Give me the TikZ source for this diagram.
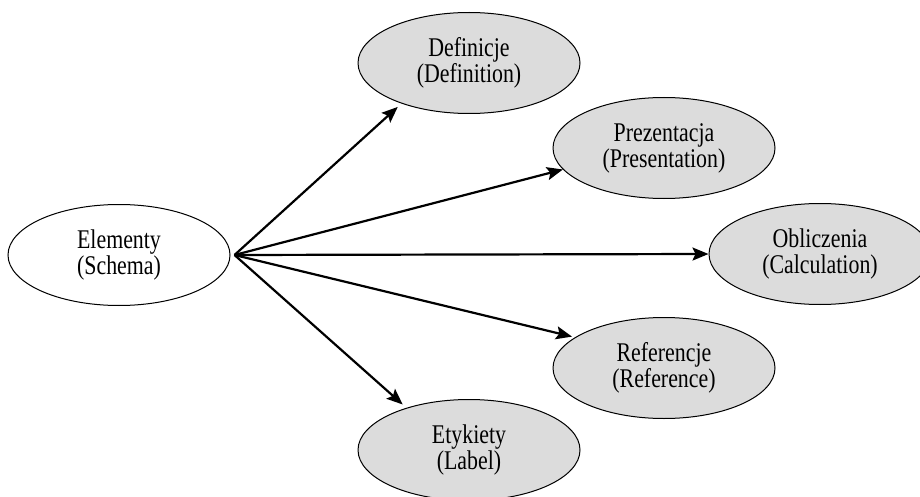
\documentclass[tikz,border=0pt]{standalone}
\usepackage{fontspec}
\setmainfont[FakeStretch=0.81]{Liberation Serif}
\usepackage{tikz}
\usetikzlibrary{arrows.meta,positioning,shapes.geometric}
\usepackage{xcolor}
\definecolor{cellgray}{HTML}{DCDCDC}
\tikzset{
  part/.style  = {draw, ellipse, line width=1pt, inner sep=0pt,
                  minimum width=222pt, minimum height=101pt, align=center,
                  font=\fontsize{27}{26}\selectfont},
  sub/.style   = {part, fill=cellgray},
  link/.style  = {-{Stealth[length=16pt,width=13pt,inset=3pt]}, line width=2.2pt},
}

\begin{document}
\begin{tikzpicture}[x=1pt,y=-1pt]
\useasboundingbox (0,0) rectangle (920,497);
\node[part] (schema) at (119,255) {Elementy\\(Schema)};
\node[sub] (def)  at (469,63)  {Definicje\\(Definition)};
\node[sub] (pres) at (664,148) {Prezentacja\\(Presentation)};
\node[sub] (calc) at (820,254) {Obliczenia\\(Calculation)};
\node[sub] (ref)  at (664,368) {Referencje\\(Reference)};
\node[sub] (lab)  at (469,450) {Etykiety\\(Label)};
\coordinate (hub) at ([xshift=4pt]schema.east);

\draw[link, shorten >=5pt] (hub) -- (def.211);
\draw[link] (hub) -- (pres.192);
\draw[link] (hub) -- (calc.west);
\draw[link, shorten >=3pt] (hub) -- (ref.161);
\draw[link, shorten >=5pt] (hub) -- (lab.146);
\end{tikzpicture}
\end{document}
